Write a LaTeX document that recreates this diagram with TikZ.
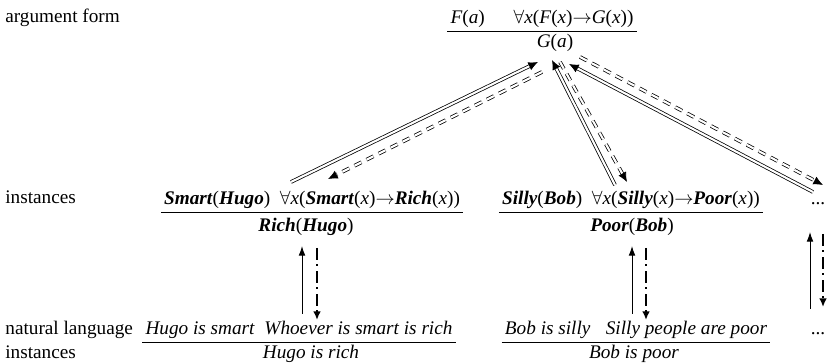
\documentclass[tikz,border=0pt]{standalone}
\usepackage{fontspec}
\setmainfont{Liberation Serif}
\usetikzlibrary{arrows.meta}
\newcommand{\iv}[1]{\textit{#1}}
\newcommand{\bi}[1]{\textbf{\textit{#1}}}
\begin{document}
\begin{tikzpicture}[x=0.52pt,y=-0.52pt,
  lbl/.style={anchor=base west,inner sep=0pt},
  prem/.style={anchor=base,inner xsep=1.5pt,inner ysep=1.3pt},
  conc/.style={anchor=base,inner sep=0pt},
  toform/.style={double,double distance=1.1pt,line width=0.4pt,-{Latex[length=5pt,width=4.5pt]}},
  toinst/.style={toform,dash pattern=on 4pt off 3pt},
  tonat/.style={line width=0.9pt,dash pattern=on 6pt off 2.5pt on 1pt off 2.5pt,-{Latex[length=4.5pt,width=4pt]}},
  fromnat/.style={line width=0.5pt,-{Latex[length=5pt,width=3.5pt]}}]
\useasboundingbox (0,0) rectangle (829,364);

% row labels
\node[lbl] (lform) at (5,23) {argument form};
\node[lbl] (linst) at (5,204) {instances};
\node[lbl] (lnat) at (5,335) {natural language};
\node[lbl] (lnat2) at (5,359) {instances};

% argument form
\node[prem] (fp) at (542,24) {\iv{F}(\iv{a})\hspace{15pt}$\forall$\iv{x}(\iv{F}(\iv{x})$\rightarrow$\iv{G}(\iv{x}))};
\node[conc] (fc) at (555,48) {\iv{G}(\iv{a})};
\draw (fp.south west) -- (fp.south east);

% instances
\node[prem] (ip1) at (312,205) {\bi{Smart}(\bi{Hugo})\ \ $\forall$\iv{x}(\bi{Smart}(\iv{x})$\rightarrow$\bi{Rich}(\iv{x}))};
\node[conc] (ic1) at (306,232) {\bi{Rich}(\bi{Hugo})};
\draw (ip1.south west) -- (ip1.south east);

\node[prem] (ip2) at (631,205) {\bi{Silly}(\bi{Bob})\ \ $\forall$\iv{x}(\bi{Silly}(\iv{x})$\rightarrow$\bi{Poor}(\iv{x}))};
\node[conc] (ic2) at (632,232) {\bi{Poor}(\bi{Bob})};
\draw (ip2.south west) -- (ip2.south east);

\node[conc] (idots) at (818,205) {...};

% natural language instances
\node[prem] (np1) at (299,335) {\iv{Hugo is smart}\ \ \iv{Whoever is smart is rich}};
\node[conc] (nc1) at (311,359) {\iv{Hugo is rich}};
\draw (np1.south west) -- (np1.south east);

\node[prem] (np2) at (636,335) {\iv{Bob is silly}\hspace{8pt}\iv{Silly people are poor}};
\node[conc] (nc2) at (634,359) {\iv{Bob is poor}};
\draw (np2.south west) -- (np2.south east);

\node[conc] (ndots) at (818,335) {...};

% form <-> instances
\coordinate (a1) at (291,182); \coordinate (g1) at (538,62);
\coordinate (g2) at (542,72);  \coordinate (a2) at (328,179);
\coordinate (b1) at (615,185); \coordinate (g3) at (552,60);
\coordinate (g4) at (560,62);  \coordinate (b2) at (627,182);
\coordinate (c1) at (813,192); \coordinate (g5) at (569,64);
\coordinate (g6) at (580,57);  \coordinate (c2) at (823,185);
\draw[toform] (a1) -- (g1);
\draw[toinst] (g2) -- (a2);
\draw[toform] (b1) -- (g3);
\draw[toinst] (g4) -- (b2);
\draw[toform] (c1) -- (g5);
\draw[toinst] (g6) -- (c2);

% instances <-> natural language
\coordinate (h1) at (302,314); \coordinate (h2) at (302,246);
\coordinate (h3) at (317,248); \coordinate (h4) at (317,320);
\coordinate (k1) at (632,314); \coordinate (k2) at (632,246);
\coordinate (k3) at (646,248); \coordinate (k4) at (646,320);
\coordinate (m1) at (810,309); \coordinate (m2) at (810,232);
\coordinate (m3) at (823,234); \coordinate (m4) at (823,307);
\draw[fromnat] (h1) -- (h2);
\draw[tonat] (h3) -- (h4);
\draw[fromnat] (k1) -- (k2);
\draw[tonat] (k3) -- (k4);
\draw[fromnat] (m1) -- (m2);
\draw[tonat] (m3) -- (m4);
\end{tikzpicture}
\end{document}
